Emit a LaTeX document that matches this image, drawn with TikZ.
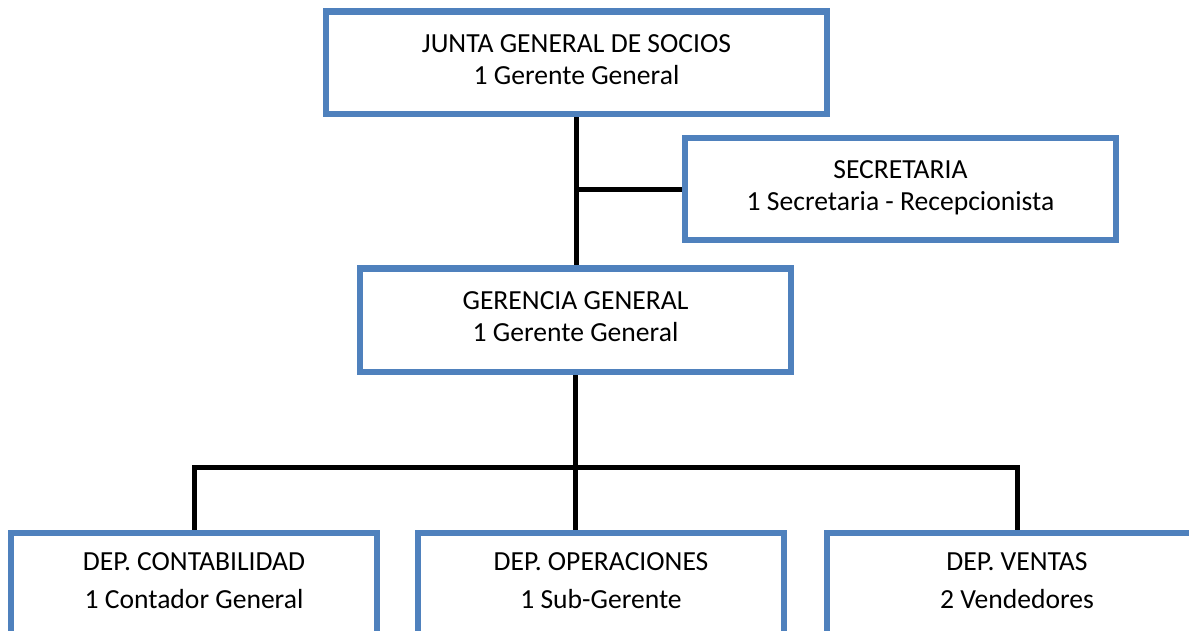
\documentclass[tikz,border=0pt]{standalone}
\usepackage{xcolor}
\usepackage{fontspec}
\setmainfont{Carlito}
\usepackage{tikz}
\usetikzlibrary{positioning}
\definecolor{boxblue}{RGB}{79,129,189}

\begin{document}
\begin{tikzpicture}
  [
    x=1pt, y=-1pt,
    Box/.style={rectangle, draw=boxblue, fill=white, line width=6.5pt, align=center, inner sep=0pt, text depth=7pt, font=\fontsize{27.6}{32}\selectfont},
    Dep/.style={Box, minimum height=103pt, font=\fontsize{27.6}{38}\selectfont},
    Line/.style={draw=black, line width=5pt}
  ]
  \useasboundingbox (0,0) rectangle (1189,630);
  \clip (0,0) rectangle (1189,630);

  % Nodes
  \node[Box, minimum width=501pt, minimum height=102.5pt] (junta) at(576.5, 62.75) {JUNTA GENERAL DE SOCIOS\\1 Gerente General};

  \node[Box, minimum width=431pt, minimum height=102pt] (secre) at(900.5, 189) {SECRETARIA\\1 Secretaria - Recepcionista};

  \node[Box, minimum width=431pt, minimum height=103.5pt] (gerencia) at(575.5, 320.25) {GERENCIA GENERAL\\1 Gerente General};

  \node[Dep, minimum width=366pt] (conta) at(194, 584.5) {DEP. CONTABILIDAD\\1 Contador General};

  \node[Dep, minimum width=366pt] (opera) at(601, 584.5) {DEP. OPERACIONES\\1 Sub-Gerente};

  \node[Dep, minimum width=380pt] (ventas) at(1017, 584.5) {DEP. VENTAS\\2 Vendedores};

  \coordinate (bus) at(575.5, 467);

  % Lines
  \path [Line] (junta.south) -- (junta.south |- gerencia.north);
  \path [Line] (secre.west) -- (secre.west -| junta.south);
  \path [Line] (gerencia.south) -- (bus);
  \path [Line] (conta.north) |- (bus) -| (ventas.north);
  \path [Line] (bus) -- (bus |- opera.north);

\end{tikzpicture}
\end{document}
